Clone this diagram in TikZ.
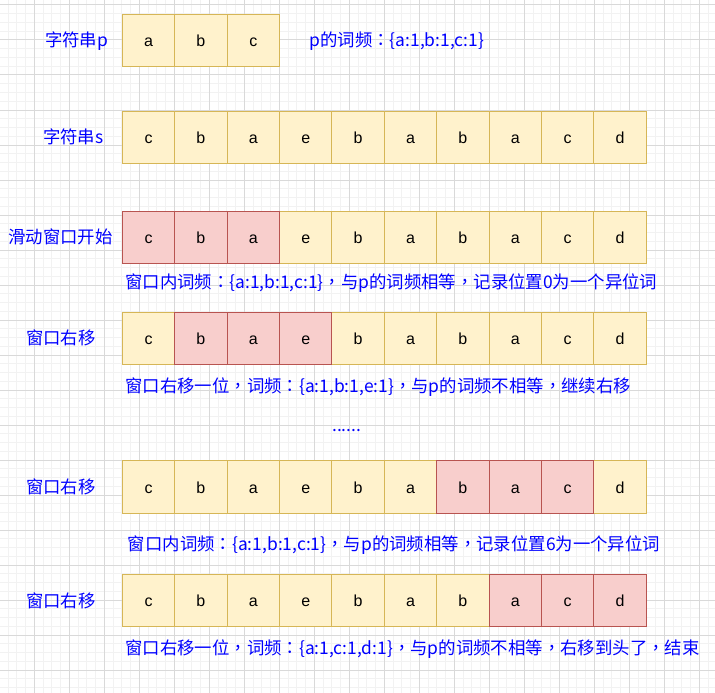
\documentclass[tikz,border=0pt]{standalone}
\usepackage{fontspec}
\setmainfont{Liberation Sans}
\newfontfamily\cjk{Noto Sans CJK SC}
\newfontfamily\cjktc{Noto Sans CJK TC}
\newcommand\zcolon{{\cjktc ：}}
\newcommand\zcomma{{\cjktc ，}}
\definecolor{yelfill}{HTML}{FFF2CC}
\definecolor{yelline}{HTML}{D6B656}
\definecolor{redfill}{HTML}{F8CECC}
\definecolor{redline}{HTML}{B85450}
\definecolor{txtblue}{HTML}{0000FF}
\definecolor{gridmajor}{HTML}{D9D9D9}
\definecolor{gridminor}{HTML}{F2F2F2}
\tikzset{
  cellbase/.style={draw, line width=1pt, minimum width=52.4pt, minimum height=52.6pt,
    inner sep=0pt, text height=12.5pt, text depth=0pt, anchor=center, text=black,
    font=\fontsize{16}{18}\selectfont},
  yelcell/.style={cellbase, fill=yelfill, draw=yelline},
  redcell/.style={cellbase, fill=redfill, draw=redline},
  lbl/.style={inner sep=0pt, text=txtblue, font=\cjk\fontsize{17.4}{20}\selectfont},
}
\begin{document}
\begin{tikzpicture}[x=1pt,y=-1pt]
\useasboundingbox (0,0) rectangle (715,693);
\fill[white] (0,0) rectangle (715,693);
% grid
\foreach \i in {0,...,81} {
  \draw[gridminor, line width=1pt] (8.05+8.75*\i,0) -- (8.05+8.75*\i,693);
}
\foreach \i in {0,...,79} {
  \draw[gridminor, line width=1pt] (0,5+8.75*\i) -- (715,5+8.75*\i);
}
\foreach \i in {0,...,20} {
  \draw[gridmajor, line width=1pt] (34.3+35*\i,0) -- (34.3+35*\i,693);
}
\foreach \i in {0,...,19} {
  \draw[gridmajor, line width=1pt] (0,5+35*\i) -- (715,5+35*\i);
}
% row p
\foreach \ch [count=\k] in {a,b,c} {
  \node[yelcell] (r1c\k) at (122.3+52.4*\k-26.2, 40.6) {\ch};
}
% rows of s
\foreach \row/\top/\lo/\hi in {2/111/0/0, 3/211/1/3, 4/312/2/4, 5/460.5/7/9, 6/574.3/8/10} {
  \foreach \ch [count=\k] in {c,b,a,e,b,a,b,a,c,d} {
    \pgfmathtruncatemacro\isred{and(\k>=\lo,\k<=\hi)}
    \ifnum\isred=0
      \node[yelcell] (r\row c\k) at (122.3+52.4*\k-26.2, \top+26.3) {\ch};
    \fi
  }
  \foreach \ch [count=\k] in {c,b,a,e,b,a,b,a,c,d} {
    \pgfmathtruncatemacro\isred{and(\k>=\lo,\k<=\hi)}
    \ifnum\isred=1
      \node[redcell] (r\row c\k) at (122.3+52.4*\k-26.2, \top+26.3) {\ch};
    \fi
  }
}
% labels
\node[lbl] (lp) at (76.5,41) {字符串p};
\node[lbl] (ls) at (73.3,137) {字符串s};
\node[lbl] (l3) at (60.5,237) {滑动窗口开始};
\node[lbl] (l4) at (61,338) {窗口右移};
\node[lbl] (l5) at (61,487) {窗口右移};
\node[lbl] (l6) at (61,601) {窗口右移};
\node[lbl, anchor=west] (freq) at (309.3,41) {p的词频\zcolon\{a:1,b:1,c:1\}};
\node[lbl, anchor=west] (cap3) at (125,283) {窗口内词频\zcolon\{a:1,b:1,c:1\}\zcomma 与p的词频相等\zcomma 记录位置0为一个异位词};
\node[lbl, anchor=west] (cap4) at (125,387) {窗口右移一位\zcomma 词频\zcolon\{a:1,b:1,e:1\}\zcomma 与p的词频不相等\zcomma 继续右移};
\node[lbl, anchor=base west] (dots) at (332,431) {......};
\node[lbl, anchor=west] (cap5) at (127.7,545) {窗口内词频\zcolon\{a:1,b:1,c:1\}\zcomma 与p的词频相等\zcomma 记录位置6为一个异位词};
\node[lbl, anchor=west] (cap6) at (125,649.5) {窗口右移一位\zcomma 词频\zcolon\{a:1,c:1,d:1\}\zcomma 与p的词频不相等\zcomma 右移到头了\zcomma 结束};
\end{tikzpicture}
\end{document}
